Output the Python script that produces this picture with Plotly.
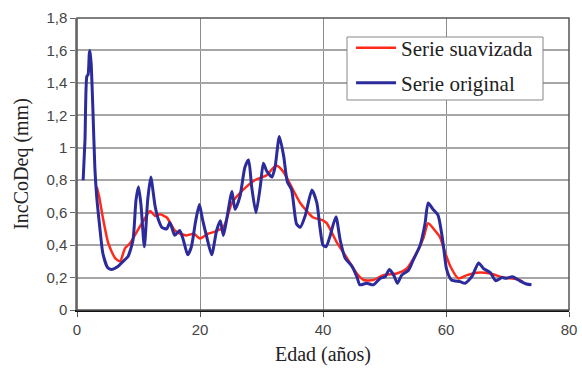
import plotly.graph_objects as go

# Original series (age in years, IncCoDeq in mm)
orig_x = [1.0, 1.3, 1.6, 1.8, 2.0, 2.1, 2.3, 2.6, 2.9, 3.2, 3.7, 4.2, 5.0, 5.6, 6.7, 7.5, 8.3, 9.1, 9.6, 10.0,
          10.4, 10.95, 11.5, 12.0, 12.7, 13.3, 13.8, 14.6, 15.1, 15.9, 16.7, 17.3, 18.0, 18.6, 19.3, 19.9,
          20.4, 21.1, 21.9, 22.7, 23.3, 23.8, 24.3, 25.2, 25.7, 26.5, 27.3, 27.9, 28.4, 29.1, 29.8, 30.3,
          30.8, 31.7, 32.2, 32.9, 33.6, 34.2, 34.9, 35.7, 36.3, 37.1, 38.2, 39.0, 39.5, 40.0, 40.5, 41.1,
          42.1, 42.8, 43.6, 44.7, 45.5, 46.0, 47.1, 48.2, 49.3, 50.1, 50.8, 51.5, 52.1, 52.8, 53.9, 54.7,
          55.8, 56.6, 57.1, 57.9, 58.7, 59.3, 59.6, 60.1, 60.9, 62.3, 63.1, 64.2, 65.3, 66.1, 67.2, 68.1,
          69.1, 69.8, 70.8, 72.0, 73.1, 73.9]
orig_y = [0.80, 1.05, 1.44, 1.45, 1.58, 1.60, 1.52, 1.22, 0.88, 0.70, 0.51, 0.35, 0.26, 0.25, 0.27, 0.30, 0.33, 0.43, 0.68, 0.76,
          0.65, 0.39, 0.68, 0.82, 0.64, 0.55, 0.51, 0.50, 0.54, 0.46, 0.49, 0.43, 0.34, 0.39, 0.55, 0.65,
          0.56, 0.45, 0.34, 0.49, 0.55, 0.46, 0.55, 0.73, 0.62, 0.70, 0.88, 0.925, 0.76, 0.60, 0.76, 0.905,
          0.86, 0.82, 0.88, 1.07, 0.95, 0.79, 0.74, 0.53, 0.51, 0.58, 0.74, 0.66, 0.51, 0.40, 0.39, 0.45,
          0.575, 0.43, 0.32, 0.27, 0.205, 0.155, 0.165, 0.155, 0.195, 0.205, 0.25, 0.215, 0.165, 0.215, 0.245, 0.31,
          0.40, 0.535, 0.66, 0.62, 0.585, 0.47, 0.39, 0.25, 0.185, 0.175, 0.165, 0.205, 0.29, 0.255, 0.23, 0.18,
          0.20, 0.195, 0.205, 0.18, 0.16, 0.155]

# Smoothed series
smooth_x = [3.2, 3.6, 4.2, 5.1, 6.2, 7.0, 7.8, 8.6, 9.7, 10.8, 11.9, 12.7, 13.5, 14.6, 15.9, 16.8, 17.8, 19.0,
            20.0, 21.3, 22.2, 23.8, 25.2, 27.0, 28.9, 30.8, 32.4, 33.6, 34.6, 36.3, 38.4, 39.8, 40.6, 42.2,
            43.9, 45.5, 46.6, 48.2, 49.8, 52.0, 53.6, 55.2, 56.3, 57.1, 58.2, 59.0, 59.8, 60.7, 62.0, 63.4,
            65.0, 67.2, 69.3, 71.5, 72.5]
smooth_y = [0.76, 0.70, 0.57, 0.41, 0.32, 0.30, 0.38, 0.41, 0.48, 0.55, 0.61, 0.58, 0.59, 0.57, 0.49, 0.47, 0.46, 0.47,
            0.44, 0.47, 0.48, 0.51, 0.66, 0.74, 0.80, 0.83, 0.89, 0.85, 0.78, 0.66, 0.57, 0.555, 0.535, 0.42,
            0.32, 0.225, 0.185, 0.185, 0.215, 0.225, 0.255, 0.35, 0.44, 0.535, 0.49, 0.45, 0.36, 0.27, 0.195, 0.215,
            0.23, 0.225, 0.20, 0.19, 0.175]

x_ticks = [0, 20, 40, 60, 80]
y_ticks = [0, 0.2, 0.4, 0.6, 0.8, 1.0, 1.2, 1.4, 1.6, 1.8]
y_tick_labels = ["0", "0,2", "0,4", "0,6", "0,8", "1", "1,2", "1,4", "1,6", "1,8"]

SERIF = "Liberation Serif, Times New Roman, serif"
SANS = "Liberation Sans, Arial, sans-serif"

fig = go.Figure()
fig.add_trace(go.Scatter(x=smooth_x, y=smooth_y, mode="lines", name="Serie suavizada", legend="legend",
                         line=dict(color="#ff2a1a", width=2.5, shape="spline", smoothing=0.6)))
fig.add_trace(go.Scatter(x=orig_x, y=orig_y, mode="lines", name="Serie original", legend="legend2",
                         line=dict(color="#2b2b9c", width=3, shape="spline", smoothing=0.6)))

# plot-area frame
fig.add_shape(type="rect", xref="paper", yref="paper", x0=0, y0=0, x1=1, y1=1,
              line=dict(color="#555555", width=1.5), layer="above")
# legend box
fig.add_shape(type="rect", xref="paper", yref="paper", x0=0.5488, y0=0.7192, x1=0.9472, y1=0.9349,
              line=dict(color="#888888", width=1), fillcolor="white", layer="above")

leg_common = dict(xanchor="left", yanchor="middle", bgcolor="rgba(0,0,0,0)", borderwidth=0,
                  font=dict(family=SERIF, size=21, color="#222222"), itemwidth=40)

fig.update_layout(
    width=582, height=368,
    margin=dict(l=77, r=13, t=18, b=58, autoexpand=False),
    paper_bgcolor="white", plot_bgcolor="white",
    showlegend=True,
    legend=dict(x=0.557, y=0.897, **leg_common),
    legend2=dict(x=0.557, y=0.777, **leg_common),
    xaxis=dict(range=[0, 80], tickvals=x_ticks, showgrid=True, gridcolor="#8c8c8c", gridwidth=1,
               showline=True, linecolor="#111111", linewidth=2, ticks="outside", ticklen=5,
               tickcolor="#555555", zeroline=False, automargin=False,
               tickfont=dict(family=SANS, size=15, color="#444444"),
               title=dict(text="Edad (años)", font=dict(family=SERIF, size=20, color="#222222"),
                          standoff=10)),
    yaxis=dict(range=[0, 1.8], tickvals=y_ticks, ticktext=y_tick_labels, showgrid=True,
               gridcolor="#a6a6a6", gridwidth=1.5, showline=True, linecolor="#888888", linewidth=1.5,
               ticks="outside", ticklen=5, tickcolor="#666666", zeroline=False, automargin=False,
               tickfont=dict(family=SANS, size=15, color="#444444"),
               title=dict(text="IncCoDeq (mm)", font=dict(family=SERIF, size=20, color="#222222"),
                          standoff=12)),
)

fig.write_html("out.html", config={"displayModeBar": False},
               post_script="document.body.style.margin='0';")
